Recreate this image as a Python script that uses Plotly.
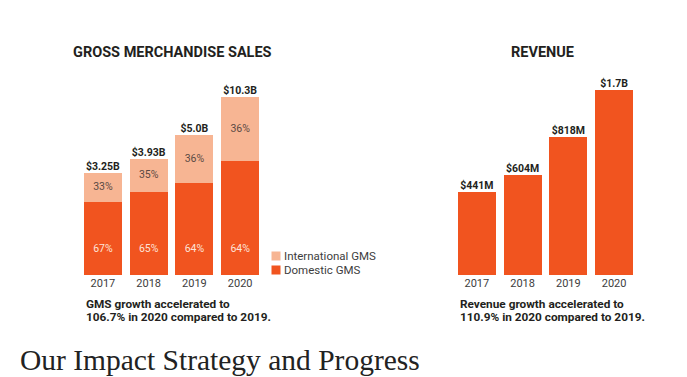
import plotly.graph_objects as go

# ---- data ----
years = ["2017", "2018", "2019", "2020"]
gms_labels = ["$3.25B", "$3.93B", "$5.0B", "$10.3B"]
domestic_pct = ["67%", "65%", "64%", "64%"]
intl_pct = ["33%", "35%", "36%", "36%"]
# drawn segment heights as read from the (non-proportional) infographic
gms_domestic_height = [73, 83, 92, 114]
gms_intl_height = [29, 33, 48, 64]

revenue_labels = ["$441M", "$604M", "$818M", "$1.7B"]
revenue_height = [83, 100, 138, 185]

legend_names = ["International GMS", "Domestic GMS"]

ORANGE = "#F1541F"
PEACH = "#F7B593"
DARK = "#231F20"
GRAY = "#3d3d3d"
SANS = "Roboto, Arial, sans-serif"

gms_total = [d + i for d, i in zip(gms_domestic_height, gms_intl_height)]
intl_mid = [d + i / 2 for d, i in zip(gms_domestic_height, gms_intl_height)]
dom_label_y = [26] * len(years)

fig = go.Figure()

fig.add_trace(go.Bar(x=years, y=gms_domestic_height, name=legend_names[1],
                     marker=dict(color=ORANGE, line=dict(width=0)), showlegend=False,
                     xaxis="x", yaxis="y", hoverinfo="skip"))
fig.add_trace(go.Bar(x=years, y=gms_intl_height, name=legend_names[0],
                     marker=dict(color=PEACH, line=dict(width=0)), showlegend=False,
                     xaxis="x", yaxis="y", hoverinfo="skip"))
# labels
fig.add_trace(go.Scatter(x=years, y=gms_total, mode="text", text=gms_labels,
                         textposition="top center", showlegend=False,
                         textfont=dict(family=SANS, size=10.5, color=DARK, weight="bold"),
                         xaxis="x", yaxis="y", hoverinfo="skip"))
fig.add_trace(go.Scatter(x=years, y=intl_mid, mode="text", text=intl_pct,
                         showlegend=False,
                         textfont=dict(family=SANS, size=10.5, color="#5b4a44"),
                         xaxis="x", yaxis="y", hoverinfo="skip"))
fig.add_trace(go.Scatter(x=years, y=dom_label_y, mode="text", text=domestic_pct,
                         showlegend=False,
                         textfont=dict(family=SANS, size=10.5, color="#fde3d8"),
                         xaxis="x", yaxis="y", hoverinfo="skip"))

fig.add_trace(go.Bar(x=years, y=revenue_height, name="Revenue",
                     marker=dict(color=ORANGE, line=dict(width=0)),
                     xaxis="x2", yaxis="y2", showlegend=False, hoverinfo="skip"))
fig.add_trace(go.Scatter(x=years, y=revenue_height, mode="text", text=revenue_labels,
                         textposition="top center", showlegend=False,
                         textfont=dict(family=SANS, size=10.5, color=DARK, weight="bold"),
                         xaxis="x2", yaxis="y2", hoverinfo="skip"))

W, H = 687, 377
ybase = 1 - 275 / H
ytop = 1 - 70 / H

axis_common = dict(showgrid=False, zeroline=False, showline=False, ticks="",
                   tickfont=dict(family=SANS, size=11, color=GRAY), fixedrange=True)

fig.update_layout(
    width=W, height=H,
    margin=dict(l=0, r=0, t=0, b=0),
    paper_bgcolor="white", plot_bgcolor="white",
    barmode="stack", bargap=0.17,
    xaxis=dict(domain=[80 / W, 263 / W], anchor="y", **axis_common),
    yaxis=dict(domain=[ybase, ytop], range=[0, 205], visible=False, anchor="x"),
    xaxis2=dict(domain=[454 / W, 637 / W], anchor="y2", **axis_common),
    yaxis2=dict(domain=[ybase, ytop], range=[0, 205], visible=False, anchor="x2"),
    showlegend=False,
    font=dict(family=SANS),
)

annotations = [
    dict(text="<b>GROSS MERCHANDISE SALES</b>", x=172.5 / W, y=1 - 52 / H,
         font=dict(family=SANS, size=14.5, color=DARK)),
    dict(text="<b>REVENUE</b>", x=542 / W, y=1 - 52 / H,
         font=dict(family=SANS, size=14.5, color=DARK)),
    dict(text="<b>GMS growth accelerated to</b>", x=84 / W, y=1 - 304 / H, xanchor="left",
         font=dict(family=SANS, size=11.8, color=DARK)),
    dict(text="<b>106.7% in 2020 compared to 2019.</b>", x=84 / W, y=1 - 317 / H, xanchor="left",
         font=dict(family=SANS, size=11.8, color=DARK)),
    dict(text="<b>Revenue growth accelerated to</b>", x=458 / W, y=1 - 304 / H, xanchor="left",
         font=dict(family=SANS, size=11.8, color=DARK)),
    dict(text="<b>110.9% in 2020 compared to 2019.</b>", x=458 / W, y=1 - 317 / H, xanchor="left",
         font=dict(family=SANS, size=11.8, color=DARK)),
    dict(text="Our Impact Strategy and Progress", x=19 / W, y=0,
         xanchor="left", yanchor="bottom", borderpad=0,
         font=dict(family="Liberation Serif, serif", size=29.5, color="#222222")),
]
# legend (keys + labels)
for name, color, yc in zip(legend_names, [PEACH, ORANGE], [255.5, 269.5]):
    annotations.append(dict(text=" ", x=271 / W, y=1 - yc / H, xanchor="left",
                            width=8, height=8, bgcolor=color, borderpad=0,
                            font=dict(size=1)))
    annotations.append(dict(text=name, x=282 / W, y=1 - yc / H, xanchor="left",
                            font=dict(family=SANS, size=11.5, color=GRAY)))

for a in annotations:
    a.setdefault("xanchor", "center")
    a.setdefault("yanchor", "middle")
    a.update(xref="paper", yref="paper", showarrow=False)
fig.update_layout(annotations=annotations)

fig.write_html("out.html", config={"displayModeBar": False},
               post_script="document.body.style.margin='0';")
